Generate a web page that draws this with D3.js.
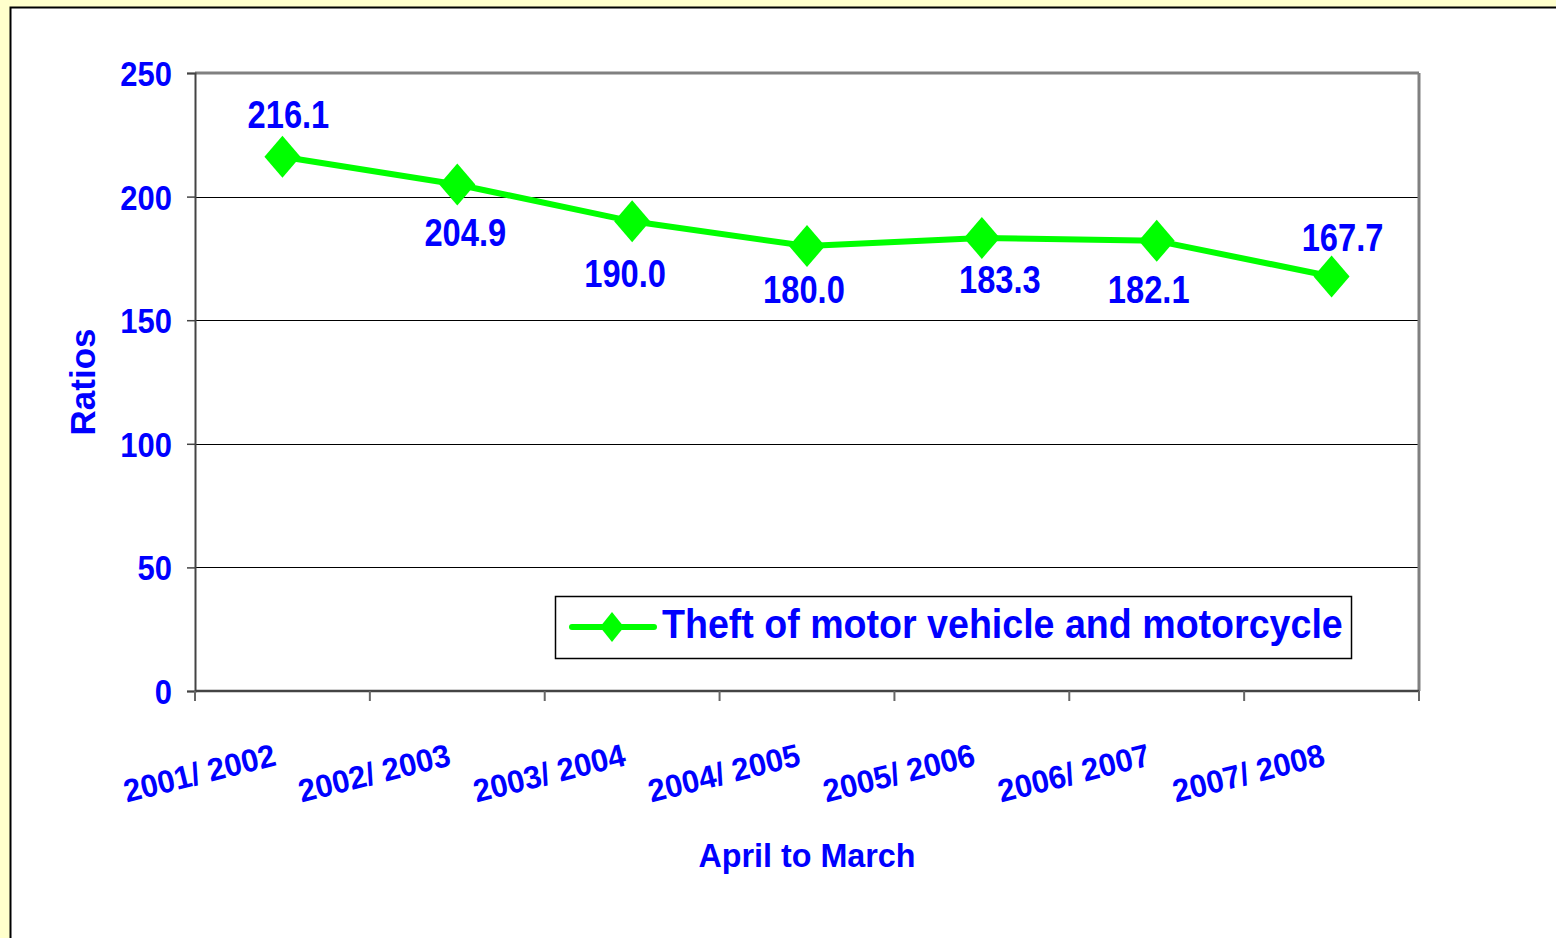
<!DOCTYPE html>
<html>
<head>
<meta charset="utf-8">
<script src="https://cdn.jsdelivr.net/npm/d3@7"></script>
<style>
  body { margin: 0; background: #FFFFCC; }
  svg { display: block; }
  text { font-family: "Liberation Sans", Arial, sans-serif; font-weight: bold; fill: #0000FF; }
</style>
</head>
<body>
<svg width="1556" height="938"></svg>
<script>
var years = ["2001/ 2002", "2002/ 2003", "2003/ 2004", "2004/ 2005", "2005/ 2006", "2006/ 2007", "2007/ 2008"];
var ratios = [216.1, 204.9, 190.0, 180.0, 183.3, 182.1, 167.7];
var yTicks = [0, 50, 100, 150, 200, 250];
var seriesName = "Theft of motor vehicle and motorcycle";

// label nudges, like Excel placed them
var labelDx = [6, 8, -7, -3, 18, -8, 11];
var labelDy = [-43, 48, 52, 43, 41, 48, -39];

var svg = d3.select("svg");
var width = 1556, height = 938;
var margin = {left: 195, right: 137, top: 73, bottom: 247};
var squeeze = 0.86;

// outer chart area
svg.append("rect").attr("x", 0).attr("y", 0).attr("width", width).attr("height", height).attr("fill", "#FFFFCC");
svg.append("rect")
  .attr("x", 10.5).attr("y", 7.5).attr("width", width + 10).attr("height", height + 10)
  .attr("fill", "#fff").attr("stroke", "#000").attr("stroke-width", 2);

var x = d3.scaleBand().domain(years).range([margin.left, width - margin.right]).padding(0);
var y = d3.scaleLinear().domain([0, 250]).range([height - margin.bottom, margin.top]);

// gridlines
svg.append("g").selectAll("line")
  .data(yTicks.filter(function(d) { return d > 0 && d < 250; }))
  .enter().append("line")
  .attr("x1", margin.left).attr("x2", width - margin.right)
  .attr("y1", function(d) { return Math.round(y(d)) + 0.5; })
  .attr("y2", function(d) { return Math.round(y(d)) + 0.5; })
  .attr("stroke", "#000").attr("stroke-width", 1);

// plot frame
svg.append("line")
  .attr("x1", margin.left).attr("x2", width - margin.right)
  .attr("y1", y(250)).attr("y2", y(250))
  .attr("stroke", "#808080").attr("stroke-width", 3);
svg.append("line")
  .attr("x1", width - margin.right).attr("x2", width - margin.right)
  .attr("y1", y(250)).attr("y2", y(0))
  .attr("stroke", "#808080").attr("stroke-width", 3);

// y axis
var yAxis = d3.axisLeft(y).tickValues(yTicks).tickSize(8).tickFormat("");
var gy = svg.append("g").attr("transform", "translate(" + margin.left + ",0)").call(yAxis);
gy.select(".domain").attr("stroke", "#444").attr("stroke-width", 2);
gy.selectAll(".tick line").attr("stroke", "#444").attr("stroke-width", 1.5);

svg.append("g").selectAll("text")
  .data(yTicks).enter().append("text")
  .attr("transform", function(d) { return "translate(172," + (y(d) + 13) + ") scale(" + squeeze + ",1)"; })
  .attr("text-anchor", "end")
  .style("font-size", "36px")
  .text(function(d) { return d; });

// x axis, ticks on category edges
var edges = years.map(function(d) { return x(d); }).concat([width - margin.right]);
svg.append("line")
  .attr("x1", margin.left).attr("x2", width - margin.right)
  .attr("y1", y(0)).attr("y2", y(0))
  .attr("stroke", "#444").attr("stroke-width", 2.5);
svg.append("g").selectAll("line")
  .data(edges).enter().append("line")
  .attr("x1", function(d) { return d; }).attr("x2", function(d) { return d; })
  .attr("y1", y(0)).attr("y2", y(0) + 10)
  .attr("stroke", "#666").attr("stroke-width", 2);

svg.append("g").selectAll("text")
  .data(years).enter().append("text")
  .attr("transform", function(d) {
    return "translate(" + (x(d) + x.bandwidth() / 2 - 5) + "," + (y(0) + 74) + ") rotate(-14) scale(0.97,1)";
  })
  .attr("text-anchor", "end")
  .style("font-size", "32px")
  .text(function(d) { return d; });

// axis titles
svg.append("text")
  .attr("transform", "translate(95," + ((y(0) + y(250)) / 2) + ") rotate(-90)")
  .attr("text-anchor", "middle")
  .style("font-size", "35px")
  .text("Ratios");

svg.append("text")
  .attr("transform", "translate(" + ((margin.left + width - margin.right) / 2) + ",867) scale(0.95,1)")
  .attr("text-anchor", "middle")
  .style("font-size", "34px")
  .text("April to March");

// series
var pts = years.map(function(d, i) { return {cat: d, v: ratios[i], i: i}; });
var line = d3.line()
  .x(function(d) { return x(d.cat) + x.bandwidth() / 2; })
  .y(function(d) { return y(d.v); });

svg.append("path")
  .attr("d", line(pts))
  .attr("fill", "none")
  .attr("stroke", "#00FF00")
  .attr("stroke-width", 6)
  .attr("stroke-linejoin", "round");

function diamond(cx, cy, w, h) {
  return "M" + cx + "," + (cy - h) + "L" + (cx + w) + "," + cy + "L" + cx + "," + (cy + h) + "L" + (cx - w) + "," + cy + "Z";
}

svg.append("g").selectAll("path")
  .data(pts).enter().append("path")
  .attr("d", function(d) { return diamond(x(d.cat) + x.bandwidth() / 2, y(d.v), 18, 21); })
  .attr("fill", "#00FF00");

svg.append("g").selectAll("text")
  .data(pts).enter().append("text")
  .attr("transform", function(d) {
    return "translate(" + (x(d.cat) + x.bandwidth() / 2 + labelDx[d.i]) + "," + (y(d.v) + labelDy[d.i] + 14) + ") scale(0.86,1)";
  })
  .attr("text-anchor", "middle")
  .style("font-size", "38px")
  .text(function(d) { return d.v.toFixed(1); });

// legend
var lg = svg.append("g").attr("transform", "translate(555,596)");
lg.append("rect").attr("x", 0.5).attr("y", 0.5).attr("width", 796).attr("height", 62)
  .attr("fill", "#fff").attr("stroke", "#000").attr("stroke-width", 1.5);
lg.append("line").attr("x1", 17).attr("x2", 99).attr("y1", 31).attr("y2", 31)
  .attr("stroke", "#00FF00").attr("stroke-width", 6).attr("stroke-linecap", "round");
lg.append("path").attr("d", diamond(57, 31, 12, 15)).attr("fill", "#00FF00");
lg.append("text")
  .attr("transform", "translate(107,42) scale(0.94,1)")
  .style("font-size", "40px")
  .text(seriesName);
</script>
</body>
</html>
